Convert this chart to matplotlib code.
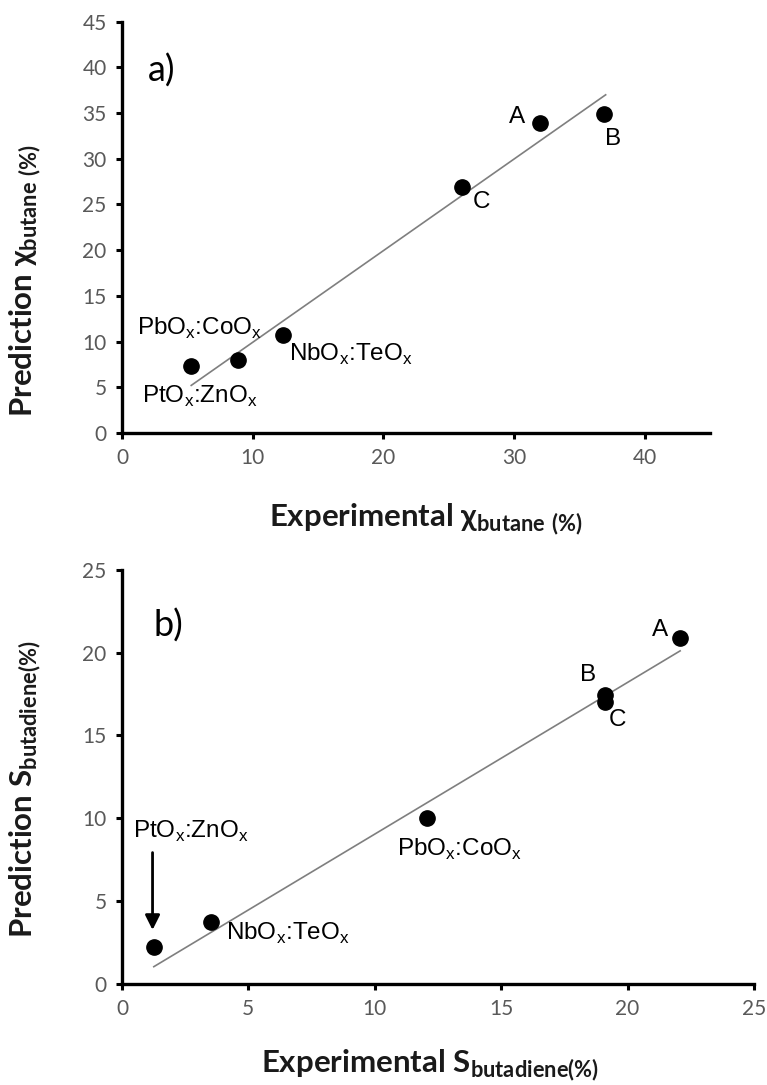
import numpy as np
import matplotlib.pyplot as plt

# -----------------------------
# DATA
# -----------------------------
names = ["PtOx:ZnOx", "PbOx:CoOx", "NbOx:TeOx", "C", "A", "B"]

# panel a) butane conversion
exp_conv = [5.3, 8.9, 12.3, 26.0, 32.0, 36.9]
pred_conv = [7.3, 8.0, 10.7, 26.9, 33.9, 34.9]
fit_conv_x = [5.3, 37.0]
fit_conv_y = [5.2, 37.0]

# panel b) butadiene selectivity
names_b = ["PtOx:ZnOx", "NbOx:TeOx", "PbOx:CoOx", "B", "C", "A"]
exp_sel = [1.26, 3.54, 12.06, 19.1, 19.1, 22.08]
pred_sel = [2.25, 3.77, 10.0, 17.46, 17.0, 20.9]
fit_sel_x = [1.26, 22.08]
fit_sel_y = [1.05, 20.1]

# -----------------------------
# STYLE
# -----------------------------
tick_font = "Lato"
label_font = "Liberation Sans"
tick_color = "#595959"

pretty = {
    "PtOx:ZnOx": r"PtO$_\mathregular{x}$:ZnO$_\mathregular{x}$",
    "PbOx:CoOx": r"PbO$_\mathregular{x}$:CoO$_\mathregular{x}$",
    "NbOx:TeOx": r"NbO$_\mathregular{x}$:TeO$_\mathregular{x}$",
    "A": "A", "B": "B", "C": "C",
}

# label offsets in pixels from each point
offs_a = {"PtOx:ZnOx": (9, -30), "PbOx:CoOx": (-39, 31), "NbOx:TeOx": (68, -19),
          "A": (-23, 6), "B": (9, -25), "C": (20, -15)}
offs_b = {"PtOx:ZnOx": (37, 115), "NbOx:TeOx": (76, -12), "PbOx:CoOx": (33, -31),
          "B": (-17, 20), "C": (13, -18), "A": (-20, 8)}


def style_axes(ax):
    for s in ["top", "right"]:
        ax.spines[s].set_visible(False)
    for s in ["left", "bottom"]:
        ax.spines[s].set_linewidth(2.4)
    ax.tick_params(direction="out", length=4, width=2.2, colors="k",
                   labelcolor=tick_color, labelsize=15, pad=7)
    for lab in ax.get_xticklabels() + ax.get_yticklabels():
        lab.set_fontfamily(tick_font)


def draw_points(ax, xs, ys, labels, offs):
    ax.plot(xs, ys, "o", color="k", ms=11, zorder=3, clip_on=False)
    for x, y, n in zip(xs, ys, labels):
        ax.annotate(pretty[n], (x, y), xytext=offs[n], textcoords="offset pixels",
                    ha="center", va="center", fontsize=17.5, family=label_font)


fig = plt.figure(figsize=(7.67, 10.85), dpi=100)
ax1 = fig.add_axes([0.159, 0.601, 0.767, 0.379])
ax2 = fig.add_axes([0.159, 0.093, 0.824, 0.382])

# panel a
ax1.plot(fit_conv_x, fit_conv_y, color="#7f7f7f", lw=1.2, zorder=2)
draw_points(ax1, exp_conv, pred_conv, names, offs_a)
ax1.set_xlim(0, 45)
ax1.set_ylim(0, 45)
ax1.set_xticks(np.arange(0, 41, 10))
ax1.set_yticks(np.arange(0, 46, 5))
style_axes(ax1)
ax1.text(0.068, 0.88, "a)", transform=ax1.transAxes, fontsize=26,
         family=tick_font, ha="center", va="center")
ax1.set_xlabel(r"Experimental $\mathregular{\chi}_\mathregular{butane\ (\%)}$",
               fontsize=22.5, fontweight="bold", family=tick_font, color="#1a1a1a")
ax1.set_ylabel(r"Prediction $\mathregular{\chi}_\mathregular{butane\ (\%)}$",
               fontsize=22.5, fontweight="bold", family=tick_font, color="#1a1a1a")
ax1.xaxis.set_label_coords(0.517, -0.165)
ax1.yaxis.set_label_coords(-0.135, 0.37)

# panel b
ax2.plot(fit_sel_x, fit_sel_y, color="#7f7f7f", lw=1.2, zorder=2)
draw_points(ax2, exp_sel, pred_sel, names_b, offs_b)
ax2.annotate("", xy=(exp_sel[0] - 0.05, 3.1), xytext=(exp_sel[0] - 0.05, 8.1),
             arrowprops=dict(arrowstyle="-|>", lw=2, color="k", mutation_scale=22))
ax2.set_xlim(0, 25)
ax2.set_ylim(0, 25)
ax2.set_xticks(np.arange(0, 26, 5))
ax2.set_yticks(np.arange(0, 26, 5))
style_axes(ax2)
ax2.text(0.074, 0.865, "b)", transform=ax2.transAxes, fontsize=26,
         family=tick_font, ha="center", va="center")
ax2.set_xlabel(r"Experimental S$_\mathregular{butadiene(\%)}$",
               fontsize=22.5, fontweight="bold", family=tick_font, color="#1a1a1a")
ax2.set_ylabel(r"Prediction S$_\mathregular{butadiene(\%)}$",
               fontsize=22.5, fontweight="bold", family=tick_font, color="#1a1a1a")
ax2.xaxis.set_label_coords(0.487, -0.152)
ax2.yaxis.set_label_coords(-0.125, 0.47)

fig.savefig("out.png", dpi=100)
